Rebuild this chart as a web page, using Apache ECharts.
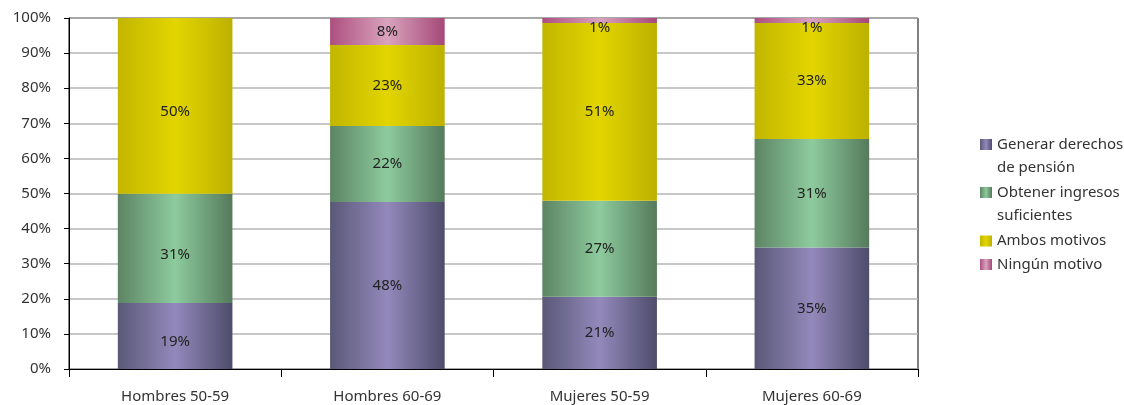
<!DOCTYPE html>
<html>
<head>
<meta charset="utf-8">
<script src="https://cdn.jsdelivr.net/npm/echarts@6/dist/echarts.min.js"></script>
<style>html,body{margin:0;padding:0;background:#fff}#c{width:1124px;height:405px}</style>
</head>
<body>
<div id="c"></div>
<script>
var categories = ['Hombres 50-59', 'Hombres 60-69', 'Mujeres 50-59', 'Mujeres 60-69'];
var generar = [18.8, 47.6, 20.6, 34.6];
var obtener = [31.1, 21.6, 27.3, 30.9];
var ambos = [50.1, 23.1, 50.7, 33.1];
var ninguno = [0, 7.7, 1.4, 1.4];
var seriesNames = ['Generar derechos\nde pensión', 'Obtener ingresos\nsuficientes', 'Ambos motivos', 'Ningún motivo'];

var FONT = 'Noto Sans';
var LH = 23.5;
function grad(dark, light, dark2) {
  return new echarts.graphic.LinearGradient(0, 0, 1, 0, [
    {offset: 0, color: dark}, {offset: 0.5, color: light}, {offset: 1, color: dark2}
  ]);
}
var colors = [
  grad('#5a5878', '#9389bb', '#4e4c6c'),
  grad('#5d8464', '#8dcb9d', '#557a5c'),
  grad('#c2b600', '#e2d500', '#bdb100'),
  grad('#ad4f80', '#d9a3bd', '#a54878')
];
var allData = [generar, obtener, ambos, ninguno];

var series = allData.map(function (arr, i) {
  return {
    name: seriesNames[i],
    type: 'bar',
    stack: 'total',
    barWidth: '54%',
    itemStyle: {color: colors[i]},
    label: {
      show: true,
      position: 'inside',
      color: '#222',
      fontFamily: FONT,
      fontSize: 15,
      formatter: function (p) { return p.value > 0 ? Math.round(p.value) + '%' : ''; }
    },
    data: arr.map(function (v, j) {
      if (v > 0 && v < 3) return {value: v, label: {offset: [0, 7]}};
      if (j === 0) return {value: v, label: {offset: [0, 6]}};
      return v;
    })
  };
});

// one legend per entry so that the icon sits on the first text line
var legendCenters = [144.5, 192.5, 241, 264.5];
var legends = seriesNames.map(function (n, i) {
  var multi = n.indexOf('\n') >= 0;
  var blockH = multi ? LH * 3 : LH;
  return {
    orient: 'vertical',
    left: 980,
    top: legendCenters[i] - blockH / 2,
    padding: 0,
    itemWidth: 12,
    itemHeight: 11,
    icon: 'rect',
    selectedMode: false,
    textStyle: {fontFamily: FONT, fontSize: 15, color: '#333', lineHeight: LH},
    formatter: function (name) { return multi ? '\n' + name : name; },
    data: [n]
  };
});

var chart = echarts.init(document.getElementById('c'));
chart.setOption({
  animation: false,
  textStyle: {fontFamily: FONT},
  grid: {left: 69, right: 206, top: 18, bottom: 36, show: true, borderColor: '#000', borderWidth: 1, backgroundColor: 'transparent'},
  legend: legends,
  xAxis: {
    type: 'category',
    data: categories,
    axisLine: {lineStyle: {color: '#000', width: 1}},
    axisTick: {show: true, alignWithLabel: false, length: 8, lineStyle: {color: '#000'}},
    axisLabel: {color: '#333', fontSize: 15, fontFamily: FONT, margin: 20}
  },
  yAxis: {
    type: 'value',
    min: 0,
    max: 100,
    interval: 10,
    axisLine: {show: true, lineStyle: {color: '#000', width: 1}},
    axisTick: {show: true, length: 5, lineStyle: {color: '#000'}},
    axisLabel: {color: '#333', fontSize: 15, fontFamily: FONT, formatter: '{value}%', margin: 18},
    splitLine: {lineStyle: {color: '#b4b4b4', width: 1.5}}
  },
  series: series
});
</script>
</body>
</html>
